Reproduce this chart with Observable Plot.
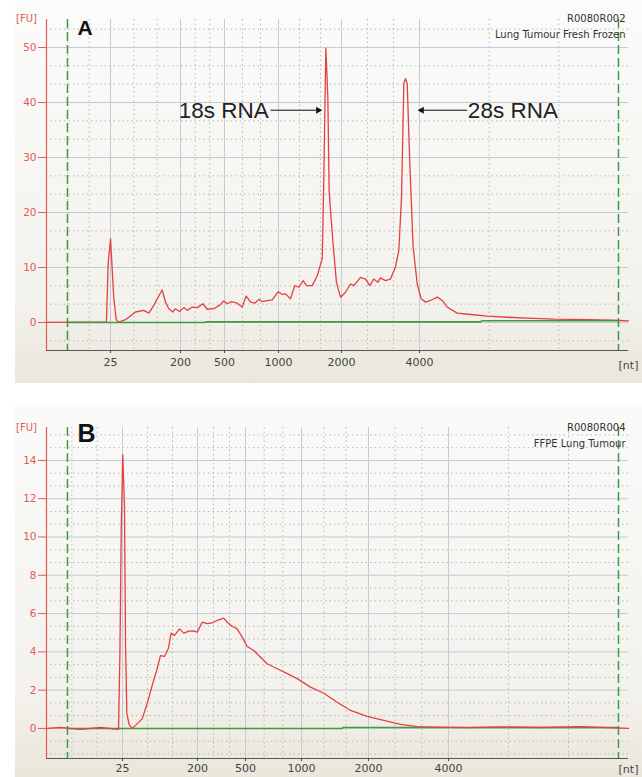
<!DOCTYPE html>
<html>
<head>
<meta charset="utf-8">
<script src="https://cdn.jsdelivr.net/npm/d3@7"></script>
<script src="https://cdn.jsdelivr.net/npm/@observablehq/plot@0.6"></script>
<style>
  html, body { margin: 0; padding: 0; background: #fff; }
  body { width: 642px; font-family: "DejaVu Sans", sans-serif; }
  #charts svg { display: block; }
</style>
</head>
<body>
<div id="charts"></div>
<script>
// ---- shared x (migration time, s) ----
const xDomain = [19, 69];
const markerTimes = [20.80, 68.14];           // green dashed lower / upper marker lines
const ntLabels = ["25", "200", "500", "1000", "2000", "4000"];

// ---- Panel A: Lung Tumour Fresh Frozen ----
const ticksA = [24.50, 30.51, 34.29, 38.93, 44.34, 51.04];
const yDomainA = [-5.1, 55.1];
const yTicksA = [0, 10, 20, 30, 40, 50];
const traceA_t = [19.00, 24.15, 24.30, 24.50, 24.78, 24.99, 25.21, 25.79, 26.65, 27.36, 27.79, 28.22, 28.51, 28.94,
  29.22, 29.51, 29.85, 30.08, 30.43, 30.80, 31.09, 31.52, 31.95, 32.43, 32.81, 33.37, 33.86, 34.23, 34.52, 34.89,
  35.38, 35.81, 36.16, 36.53, 36.90, 37.24, 37.53, 38.10, 38.39, 38.91, 39.25, 39.53, 39.96, 40.33, 40.68, 41.05,
  41.34, 41.83, 42.26, 42.69, 42.82, 43.00, 43.17, 43.28, 43.45, 43.63, 43.91, 44.26, 44.69, 45.12, 45.40, 45.98,
  46.41, 46.78, 47.12, 47.46, 47.69, 48.12, 48.55, 48.98, 49.27, 49.50, 49.70, 49.84, 49.99, 50.21, 50.50, 50.85,
  51.19, 51.56, 51.99, 52.57, 53.00, 53.42, 54.28, 55.43, 56.86, 58.58, 60.30, 62.58, 65.45, 67.74, 69.00];
const traceA_fu = [0, 0.1, 10.7, 15.2, 4.5, 0.5, 0.05, 0.5, 1.9, 2.2, 1.7, 3.1, 4.3, 5.9,
  3.7, 2.5, 1.9, 2.5, 2.0, 2.7, 2.2, 2.8, 2.7, 3.4, 2.4, 2.5, 3.1, 3.9, 3.4, 3.8,
  3.5, 2.8, 4.8, 3.7, 3.5, 4.2, 3.8, 4.0, 4.1, 5.6, 5.1, 5.2, 4.3, 6.7, 6.4, 7.6,
  6.7, 6.7, 8.5, 11.6, 25.8, 49.9, 41.0, 24.0, 19.0, 14.0, 7.3, 4.6, 5.5, 7.0, 6.7, 8.2,
  7.9, 6.7, 7.9, 7.3, 8.1, 7.6, 7.9, 10.1, 13.1, 22.8, 43.4, 44.4, 43.4, 28.9, 13.7, 7.0,
  4.3, 3.7, 4.0, 4.6, 4.0, 2.8, 1.7, 1.45, 1.15, 0.95, 0.8, 0.6, 0.5, 0.4, 0.3];
const baseA_t = [20.80, 32.60, 32.70, 56.29, 56.40, 68.14];
const baseA_fu = [0, 0, 0.1, 0.1, 0.3, 0.3];
const annotA_text = ["18s RNA", "28s RNA"];
const annotA_textX = [38.10, 55.20];
const annotA_tailX = [38.24, 55.14];
const annotA_headX = [42.60, 50.98];
const annotA_y = [38.6, 38.6];

// ---- Panel B: FFPE Lung Tumour ----
const ticksB = [25.53, 31.97, 36.10, 40.91, 46.66, 53.54];
const yDomainB = [-1.57, 15.72];
const yTicksB = [0, 2, 4, 6, 8, 10, 12, 14];
const traceB_t = [19.00, 20.20, 21.92, 23.64, 25.19, 25.31, 25.42, 25.55, 25.70, 25.79, 25.90, 26.10, 26.36, 26.65, 27.22,
  27.65, 28.08, 28.45, 28.79, 29.14, 29.46, 29.71, 30.00, 30.43, 30.80, 31.23, 31.65, 31.95, 32.38, 32.81, 33.24,
  33.67, 34.23, 34.52, 34.95, 35.38, 35.81, 36.24, 36.81, 37.39, 37.96, 38.82, 39.68, 40.54, 41.68, 42.82, 43.97,
  45.12, 46.55, 47.98, 49.41, 50.85, 52.27, 55.14, 58.00, 61.44, 64.88, 69.00];
const traceB_fu = [0.0, 0.05, -0.05, 0.05, -0.05, 4.0, 10.4, 14.3, 11.6, 4.4, 0.8, 0.2, 0.0, 0.16, 0.5,
  1.3, 2.25, 3.0, 3.8, 3.76, 4.16, 4.98, 4.86, 5.2, 4.98, 5.08, 5.1, 5.03, 5.55, 5.47, 5.52,
  5.64, 5.76, 5.55, 5.34, 5.2, 4.77, 4.28, 4.07, 3.72, 3.38, 3.12, 2.86, 2.6, 2.16, 1.84, 1.37,
  0.94, 0.63, 0.42, 0.21, 0.1, 0.07, 0.04, 0.08, 0.05, 0.1, 0.0];
const baseB_t = [20.80, 44.40, 44.50, 68.14];
const baseB_fu = [0, 0, 0.05, 0.05];

const RED = "#e4403f";
const AXIS_RED = "#e25a5a";
const GREEN = "#3f9c40";

function zip(t, v) { return t.map((d, i) => ({t: d, v: v[i]})); }

function minorX(ticks) {
  const edges = [xDomain[0], ...ticks, xDomain[1]];
  const out = [];
  for (let i = 0; i < edges.length - 1; i++) {
    const a = edges[i], b = edges[i + 1];
    out.push(a + (b - a) / 3, a + 2 * (b - a) / 3);
  }
  return out;
}
function minorY(domain, step) {
  const s = step / 3, out = [];
  for (let k = Math.ceil(domain[0] / s); k <= Math.floor(domain[1] / s); k++) {
    if (k % 3 !== 0) out.push(k * s);
  }
  return out;
}

function panel(cfg) {
  const labelMap = new Map(cfg.ticks.map((d, i) => [d, ntLabels[i]]));
  const trace = zip(cfg.traceT, cfg.traceV);
  const base = zip(cfg.baseT, cfg.baseV);
  const redLine = Plot.line(trace, {x: "t", y: "v", stroke: RED, strokeWidth: 1.3, curve: "linear"});
  const greenLine = Plot.line(base, {x: "t", y: "v", stroke: GREEN, strokeWidth: 1.6});
  const marks = [
    Plot.ruleY(minorY(cfg.yDomain, cfg.yStep), {stroke: "#b9b9b9", strokeDasharray: "1.5,3"}),
    Plot.ruleX(minorX(cfg.ticks), {stroke: "#b9b9b9", strokeDasharray: "1.5,3"}),
    Plot.ruleY(cfg.yTicks, {stroke: "#c6c8d6"}),
    Plot.ruleX(cfg.ticks, {stroke: "#c6c8d6"}),
    Plot.ruleX(markerTimes, {stroke: GREEN, strokeWidth: 1.5, strokeDasharray: "9,4"}),
    ...(cfg.redFirst ? [redLine, greenLine] : [greenLine, redLine]),
    Plot.ruleX([xDomain[0]], {stroke: AXIS_RED, strokeWidth: 1.2}),
    Plot.ruleY([cfg.yDomain[0]], {stroke: "#555", strokeWidth: 1}),
    Plot.axisY({ticks: cfg.yTicks, tickSize: 8, tickPadding: 2, color: AXIS_RED, fontSize: 10.5,
      fontFamily: "DejaVu Sans", label: null}),
    Plot.axisX({ticks: cfg.ticks, tickFormat: d => labelMap.get(d), tickSize: 3, tickPadding: cfg.xPad,
      color: "#444", fontSize: 11, fontFamily: "DejaVu Sans", label: null}),
    Plot.text(["[nt]"], {x: xDomain[1], y: cfg.yDomain[0], dy: cfg.ntDy, textAnchor: "middle", fill: "#444",
      fontSize: 11, fontFamily: "DejaVu Sans"}),
    Plot.text(["[FU]"], {x: xDomain[0], y: cfg.yDomain[1], dx: -20, dy: cfg.fuDy, textAnchor: "middle",
      fill: AXIS_RED, fontSize: 10, fontFamily: "DejaVu Sans"}),
    Plot.text([cfg.letter], {frameAnchor: "top-left", dx: 31, dy: cfg.letterDy, lineAnchor: "middle",
      textAnchor: "start", fontSize: cfg.letterSize, fontWeight: "bold", fontFamily: "Liberation Sans", fill: "#111"}),
    Plot.text([cfg.id], {frameAnchor: "top-right", dx: -3, dy: cfg.idDy, lineAnchor: "middle",
      fill: "#333", fontSize: 10, fontFamily: "DejaVu Sans"}),
    Plot.text([cfg.name], {frameAnchor: "top-right", dx: -3, dy: cfg.idDy + 16, lineAnchor: "middle",
      fill: "#333", fontSize: 10, fontFamily: "DejaVu Sans"})
  ];
  if (cfg.annot) {
    const a = cfg.annot.text.map((s, i) => ({s, tx: cfg.annot.textX[i], t1: cfg.annot.tailX[i],
      t2: cfg.annot.headX[i], y: cfg.annot.y[i], dir: i === 0 ? 90 : -90,
      anchor: i === 0 ? "end" : "start"}));
    marks.push(
      Plot.link(a, {x1: "t1", x2: "t2", y1: "y", y2: "y", stroke: "#111", strokeWidth: 1}),
      Plot.dot(a.filter(d => d.dir > 0), {x: "t2", y: "y", symbol: "triangle", r: 2.6, fill: "#111",
        rotate: 90, dx: -3}),
      Plot.dot(a.filter(d => d.dir < 0), {x: "t2", y: "y", symbol: "triangle", r: 2.6, fill: "#111",
        rotate: -90, dx: 3}),
      Plot.text(a.filter(d => d.anchor === "end"), {x: "tx", y: "y", text: "s", textAnchor: "end", lineAnchor: "middle",
        fontSize: 22.5, fontFamily: "Liberation Sans", fill: "#222", dy: 1}),
      Plot.text(a.filter(d => d.anchor === "start"), {x: "tx", y: "y", text: "s", textAnchor: "start", lineAnchor: "middle",
        fontSize: 22.5, fontFamily: "Liberation Sans", fill: "#222", dy: 1})
    );
  }
  return Plot.plot({
    width: 642,
    height: cfg.height,
    marginLeft: 46,
    marginRight: 14,
    marginTop: cfg.marginTop,
    marginBottom: cfg.marginBottom,
    x: {domain: xDomain, axis: null, label: null},
    y: {domain: cfg.yDomain, axis: null, label: null},
    style: {background: cfg.bg, fontFamily: "DejaVu Sans", overflow: "visible"},
    marks
  });
}

const root = document.getElementById("charts");
root.append(panel({
  height: 390, marginTop: 19, marginBottom: 40,
  ticks: ticksA, yDomain: yDomainA, yTicks: yTicksA, yStep: 10,
  traceT: traceA_t, traceV: traceA_fu, baseT: baseA_t, baseV: baseA_fu, redFirst: true,
  letter: "A", letterSize: 21, letterDy: 9, fuDy: -1, ntDy: 15, xPad: 5,
  id: "R0080R002", name: "Lung Tumour Fresh Frozen", idDy: -1,
  annot: {text: annotA_text, textX: annotA_textX, tailX: annotA_tailX, headX: annotA_headX, y: annotA_y},
  bg: "linear-gradient(to right,#fff 15px,transparent 15px),linear-gradient(to bottom,#fbfbfa 0px,#f3f2ed 300px,#e9e6da 383px,#fff 383px)"
}));
root.append(panel({
  height: 387, marginTop: 37, marginBottom: 19,
  ticks: ticksB, yDomain: yDomainB, yTicks: yTicksB, yStep: 2,
  traceT: traceB_t, traceV: traceB_fu, baseT: baseB_t, baseV: baseB_fu, redFirst: false,
  letter: "B", letterSize: 25, letterDy: 6, fuDy: 0, ntDy: 11, xPad: 3,
  id: "R0080R004", name: "FFPE Lung Tumour", idDy: 0,
  bg: "linear-gradient(to right,#fff 15px,transparent 15px),linear-gradient(to bottom,#fff 0px,#fff 14px,#fafaf9 14px,#f3f2ed 300px,#e9e6da 100%)"
}));
</script>
</body>
</html>
